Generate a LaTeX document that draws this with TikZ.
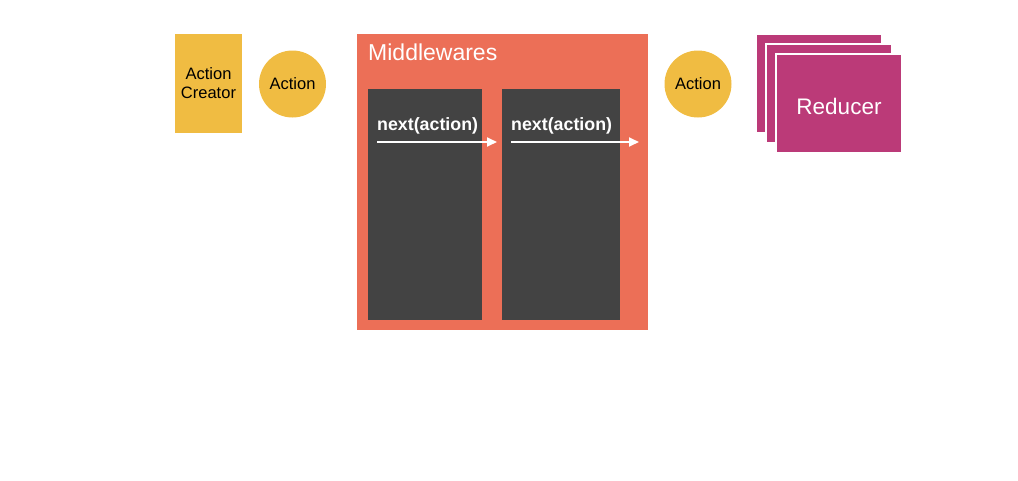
\documentclass[tikz,border=0pt]{standalone}
\usepackage{fontspec}
\setmainfont{Liberation Sans}
\usetikzlibrary{arrows.meta, positioning}

\definecolor{actionyellow}{HTML}{F0BC42}
\definecolor{mwred}{HTML}{EC6F57}
\definecolor{mwdark}{HTML}{434343}
\definecolor{reducerpink}{HTML}{BB3A78}

\begin{document}
\begin{tikzpicture}[
    x=1pt, y=-1pt,
    creator/.style={
        rectangle,
        fill=actionyellow,
        minimum width=67pt, minimum height=99pt,
        align=center,
        font=\fontsize{16.5}{19}\selectfont,
        inner sep=0pt
    },
    action/.style={
        circle,
        fill=actionyellow,
        minimum size=67pt,
        inner sep=0pt,
        font=\fontsize{16.5}{19}\selectfont
    },
    mwbox/.style={
        rectangle,
        fill=mwred,
        minimum width=291pt, minimum height=296pt,
        inner sep=0pt
    },
    mwstage/.style={
        rectangle,
        fill=mwdark,
        minimum height=231pt,
        inner sep=0pt
    },
    calltext/.style={
        anchor=west, inner sep=0pt,
        text=white,
        font=\bfseries\fontsize{17.8}{20}\selectfont
    },
    reducer/.style={
        rectangle,
        fill=reducerpink,
        draw=white, line width=2.5pt,
        minimum width=126pt, minimum height=99pt,
        inner sep=0pt,
        text=white,
        font=\fontsize{22.5}{25}\selectfont
    },
    line/.style={white, line width=1.8pt, -{Triangle[length=10pt, width=9pt]}}
]

\useasboundingbox (0,0) rectangle (1018,480);

\node[creator] (creator) at (208.5,83.5) {Action\\Creator};
\node[action] (action1) at (292.5,84) {Action};

% middleware chain
\node[mwbox] (mw) at (502.5,182) {};
\node[anchor=north west, inner sep=0pt, text=white,
      font=\fontsize{23}{25}\selectfont] (mwlabel) at (368,44) {Middlewares};
\node[mwstage, minimum width=114pt] (stage1) at (425,204.5) {};
\node[mwstage, minimum width=118pt] (stage2) at (561,204.5) {};

\node[calltext] (next1) at (377,125.5) {next(action)};
\node[calltext] (next2) at (511,125.5) {next(action)};

\coordinate (start1) at (377,142);
\coordinate (end1) at (497,142);
\coordinate (start2) at (511,142);
\coordinate (end2) at (639,142);

\draw[line] (start1) -- (end1);
\draw[line] (start2) -- (end2);

\node[action] (action2) at (698,84) {Action};

% stacked reducers
\node[reducer] (reducer3) at (819,83.5) {};
\node[reducer] (reducer2) at (829,93.5) {};
\node[reducer] (reducer1) at (839,103.5) {};
\node[text=white, inner sep=0pt, font=\fontsize{22.5}{25}\selectfont]
    (reducerlabel) at (839,106) {Reducer};

\end{tikzpicture}
\end{document}
